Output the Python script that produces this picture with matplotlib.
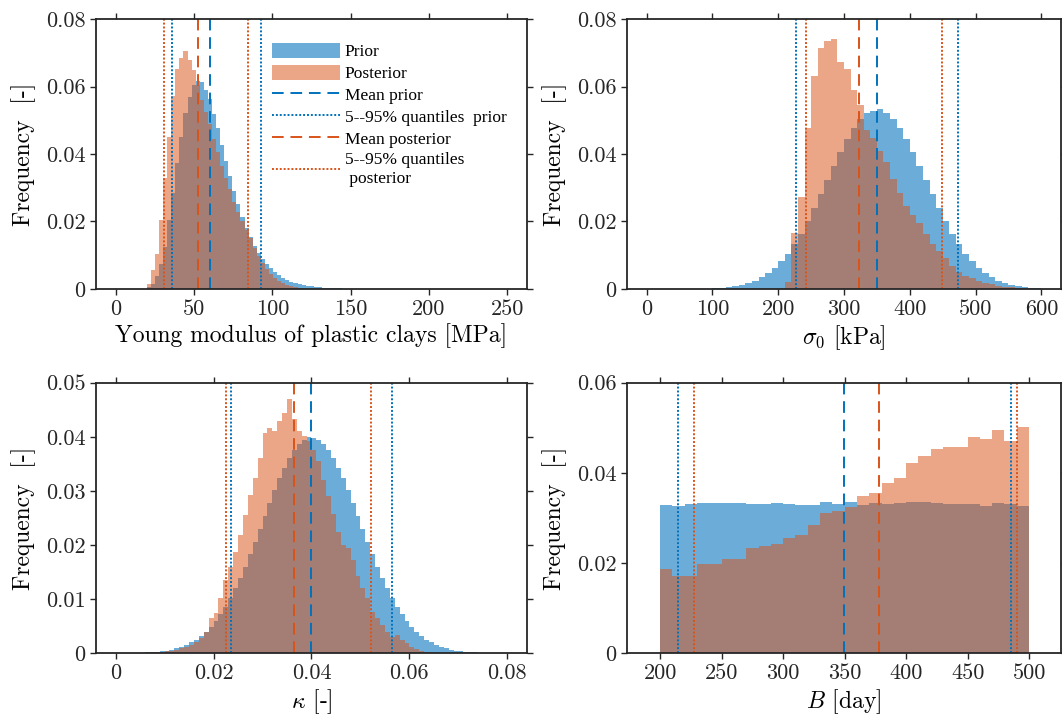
import numpy as np
import matplotlib
matplotlib.use('Agg')
import matplotlib.pyplot as plt


#-----------------------------------------------------------------------------
# histogram data (bin start, bin width, frequencies)

young_prior_start, young_prior_width = 17.3, 2.6
young_prior = [0.0001, 0.0005, 0.0016, 0.0037, 0.0075, 0.0125, 0.0205, 0.0285, 0.0372, 0.0450,
               0.0522, 0.0570, 0.0605, 0.0615, 0.0612, 0.0590, 0.0563, 0.0520, 0.0477, 0.0428,
               0.0380, 0.0335, 0.0291, 0.0252, 0.0213, 0.0182, 0.0153, 0.0128, 0.0107, 0.0089,
               0.0074, 0.0061, 0.0051, 0.0042, 0.0034, 0.0027, 0.0022, 0.0018, 0.0015, 0.0012,
               0.0010, 0.0008, 0.0006, 0.0005, 0.0004, 0.0003, 0.0003, 0.0002, 0.0002, 0.0001,
               0.0001, 0.0001]

young_post_start, young_post_width = 19.9, 2.6
young_post = [0.0014, 0.0055, 0.0105, 0.0205, 0.0328, 0.0450, 0.0572, 0.0652, 0.0685, 0.0705,
              0.0680, 0.0650, 0.0605, 0.0560, 0.0525, 0.0490, 0.0445, 0.0405, 0.0365, 0.0328,
              0.0295, 0.0258, 0.0228, 0.0200, 0.0175, 0.0150, 0.0122, 0.0098, 0.0077, 0.0059,
              0.0045, 0.0033, 0.0024, 0.0017, 0.0012, 0.0008, 0.0005, 0.0003, 0.0002, 0.0001]

sigma_prior_start, sigma_prior_width = 100, 10
sigma_prior = [0.0003, 0.0004, 0.0006, 0.0009, 0.0013, 0.0018, 0.0025, 0.0035, 0.0047, 0.0063,
               0.0082, 0.0105, 0.0133, 0.0164, 0.0200, 0.0239, 0.0280, 0.0323, 0.0365, 0.0407,
               0.0444, 0.0477, 0.0503, 0.0521, 0.0528, 0.0532, 0.0521, 0.0503, 0.0477, 0.0444,
               0.0407, 0.0365, 0.0323, 0.0280, 0.0239, 0.0200, 0.0164, 0.0133, 0.0105, 0.0082,
               0.0063, 0.0047, 0.0035, 0.0025, 0.0018, 0.0013, 0.0009, 0.0006, 0.0004, 0.0003]

sigma_post_start, sigma_post_width = 210, 10
sigma_post = [0.0022, 0.0165, 0.0274, 0.0476, 0.0630, 0.0715, 0.0735, 0.0742, 0.0672, 0.0652,
              0.0590, 0.0545, 0.0470, 0.0448, 0.0410, 0.0377, 0.0325, 0.0285, 0.0245, 0.0220,
              0.0196, 0.0162, 0.0132, 0.0112, 0.0092, 0.0068, 0.0050, 0.0038, 0.0032, 0.0025,
              0.0019, 0.0014, 0.0010, 0.0007, 0.0005, 0.0003, 0.0002]

kappa_prior_start, kappa_prior_width = 0.005, 0.001
kappa_prior = [0.0001, 0.0002, 0.0002, 0.0003, 0.0004, 0.0005, 0.0007, 0.0009, 0.0012, 0.0016,
               0.0020, 0.0025, 0.0032, 0.0040, 0.0049, 0.0060, 0.0072, 0.0086, 0.0102, 0.0120,
               0.0140, 0.0160, 0.0183, 0.0206, 0.0230, 0.0254, 0.0278, 0.0301, 0.0323, 0.0343,
               0.0361, 0.0375, 0.0387, 0.0395, 0.0399, 0.0398, 0.0394, 0.0387, 0.0375, 0.0361,
               0.0343, 0.0323, 0.0301, 0.0278, 0.0254, 0.0230, 0.0206, 0.0183, 0.0160, 0.0140,
               0.0120, 0.0102, 0.0086, 0.0072, 0.0060, 0.0049, 0.0040, 0.0032, 0.0025, 0.0020,
               0.0016, 0.0012, 0.0009, 0.0007, 0.0005, 0.0004, 0.0003, 0.0002, 0.0002, 0.0001]

kappa_post_start, kappa_post_width = 0.005, 0.001
kappa_post = [0.0001, 0.0001, 0.0002, 0.0002, 0.0003, 0.0004, 0.0005, 0.0007, 0.0009, 0.0012,
              0.0016, 0.0021, 0.0028, 0.0040, 0.0065, 0.0074, 0.0102, 0.0136, 0.0160, 0.0188,
              0.0219, 0.0256, 0.0293, 0.0324, 0.0361, 0.0407, 0.0417, 0.0410, 0.0429, 0.0444,
              0.0469, 0.0432, 0.0410, 0.0401, 0.0392, 0.0375, 0.0355, 0.0320, 0.0290, 0.0258,
              0.0225, 0.0200, 0.0194, 0.0172, 0.0142, 0.0120, 0.0102, 0.0077, 0.0065, 0.0052,
              0.0040, 0.0031, 0.0034, 0.0025, 0.0019, 0.0012, 0.0008, 0.0005, 0.0003, 0.0002]

b_prior_start, b_prior_width = 200, 10
b_prior = [0.0329, 0.0327, 0.0331, 0.0333, 0.0334, 0.0334, 0.0333, 0.0330, 0.0330, 0.0333,
           0.0330, 0.0328, 0.0328, 0.0336, 0.0331, 0.0335, 0.0329, 0.0333, 0.0331, 0.0333,
           0.0335, 0.0336, 0.0333, 0.0331, 0.0330, 0.0330, 0.0327, 0.0333, 0.0330, 0.0327]

b_post_start, b_post_width = 200, 10
b_post = [0.0186, 0.0172, 0.0171, 0.0198, 0.0198, 0.0209, 0.0209, 0.0233, 0.0239, 0.0242,
          0.0255, 0.0262, 0.0284, 0.0310, 0.0316, 0.0325, 0.0349, 0.0356, 0.0377, 0.0388,
          0.0421, 0.0437, 0.0454, 0.0457, 0.0458, 0.0480, 0.0475, 0.0494, 0.0471, 0.0502]

# mean and 5 / 95 % quantiles (prior, posterior)
young_stats = dict(mean_prior=60.0, q_prior=[35.7, 93.1], mean_post=52.7, q_post=[31.1, 84.6])
sigma_stats = dict(mean_prior=350.0, q_prior=[226.8, 473.3], mean_post=323.0, q_post=[242.5, 449.0])
kappa_stats = dict(mean_prior=0.0400, q_prior=[0.0235, 0.0564], mean_post=0.0365, q_post=[0.0225, 0.0521])
b_stats = dict(mean_prior=349.8, q_prior=[214.4, 485.0], mean_post=378.0, q_post=[227.7, 490.0])

#-----------------------------------------------------------------------------

BLUE = '#0072BD'
ORANGE = '#D95319'
AXCOL = '#262626'

plt.rcParams['font.family'] = 'cmr10'
plt.rcParams['mathtext.fontset'] = 'cm'
plt.rcParams['axes.unicode_minus'] = False
plt.rcParams['axes.formatter.use_mathtext'] = True


def edges(start, width, vals):
    return start + width * np.arange(len(vals) + 1)


def panel(ax, prior, post, stats, xlim, xticks, xticklabels, yticks, yticklabels, xlabel):

    hp = ax.stairs(prior[2], edges(*prior), fill=True, facecolor=BLUE, alpha=0.58,
                   edgecolor='none', label='Prior')
    hq = ax.stairs(post[2], edges(*post), fill=True, facecolor=ORANGE, alpha=0.52,
                   edgecolor='none', label='Posterior')

    lw = 1.4
    h1 = ax.axvline(stats['mean_prior'], color=BLUE, lw=lw, dashes=(6, 3.5), label='Mean prior')
    for q in stats['q_prior']:
        h2 = ax.axvline(q, color=BLUE, lw=lw, linestyle=(0, (1, 1)),
                        label='5--95% quantiles  prior')
    h3 = ax.axvline(stats['mean_post'], color=ORANGE, lw=lw, dashes=(6, 3.5),
                    label='Mean posterior')
    for q in stats['q_post']:
        h4 = ax.axvline(q, color=ORANGE, lw=lw, linestyle=(0, (1, 1)),
                        label='5--95% quantiles\n posterior')

    ax.set_xlim(xlim)
    ax.set_ylim(yticks[0], yticks[-1])
    ax.set_xticks(xticks)
    ax.set_xticklabels(xticklabels)
    ax.set_yticks(yticks)
    ax.set_yticklabels(yticklabels)
    ax.set_xlabel(xlabel, fontsize=17, labelpad=3)
    ax.set_ylabel('Frequency  [-]', fontsize=17, labelpad=7)

    ax.tick_params(direction='out', top=True, right=True, length=4.5, width=1.0,
                   labelsize=16, colors=AXCOL, pad=3)
    for s in ax.spines.values():
        s.set_linewidth(1.3)
        s.set_color(AXCOL)

    return [hp, hq, h1, h2, h3, h4]


def main():

    fig = plt.figure(figsize=(10.62, 7.23), dpi=100)

    ax1 = fig.add_axes([0.0904, 0.6003, 0.4058, 0.3734])
    ax2 = fig.add_axes([0.5904, 0.6003, 0.4087, 0.3734])
    ax3 = fig.add_axes([0.0904, 0.0964, 0.4058, 0.3743])
    ax4 = fig.add_axes([0.5904, 0.0964, 0.4087, 0.3743])

    handles = panel(ax1,
                    (young_prior_start, young_prior_width, young_prior),
                    (young_post_start, young_post_width, young_post),
                    young_stats, [-12.5, 262.5],
                    [0, 50, 100, 150, 200, 250], ['0', '50', '100', '150', '200', '250'],
                    [0, 0.02, 0.04, 0.06, 0.08], ['0', '0.02', '0.04', '0.06', '0.08'],
                    'Young modulus of plastic clays [MPa]')

    panel(ax2,
          (sigma_prior_start, sigma_prior_width, sigma_prior),
          (sigma_post_start, sigma_post_width, sigma_post),
          sigma_stats, [-30, 630],
          [0, 100, 200, 300, 400, 500, 600], ['0', '100', '200', '300', '400', '500', '600'],
          [0, 0.02, 0.04, 0.06, 0.08], ['0', '0.02', '0.04', '0.06', '0.08'],
          r'$\sigma_0$ [kPa]')

    panel(ax3,
          (kappa_prior_start, kappa_prior_width, kappa_prior),
          (kappa_post_start, kappa_post_width, kappa_post),
          kappa_stats, [-0.004, 0.084],
          [0, 0.02, 0.04, 0.06, 0.08], ['0', '0.02', '0.04', '0.06', '0.08'],
          [0, 0.01, 0.02, 0.03, 0.04, 0.05], ['0', '0.01', '0.02', '0.03', '0.04', '0.05'],
          r'$\kappa$ [-]')

    panel(ax4,
          (b_prior_start, b_prior_width, b_prior),
          (b_post_start, b_post_width, b_post),
          b_stats, [173, 526],
          [200, 250, 300, 350, 400, 450, 500], ['200', '250', '300', '350', '400', '450', '500'],
          [0, 0.02, 0.04, 0.06], ['0', '0.02', '0.04', '0.06'],
          r'$B$ [day]')

    ax1.legend(handles=handles, loc='upper left', bbox_to_anchor=(0.408, 0.912),
               frameon=False, prop={'family': 'Liberation Serif', 'size': 12.5},
               handlelength=3.9, handleheight=1.0, handletextpad=0.3,
               labelspacing=0.24, borderpad=0.0, borderaxespad=0.0)

    fig.savefig('out.png', dpi=100)


if __name__ == "__main__":
    main()
